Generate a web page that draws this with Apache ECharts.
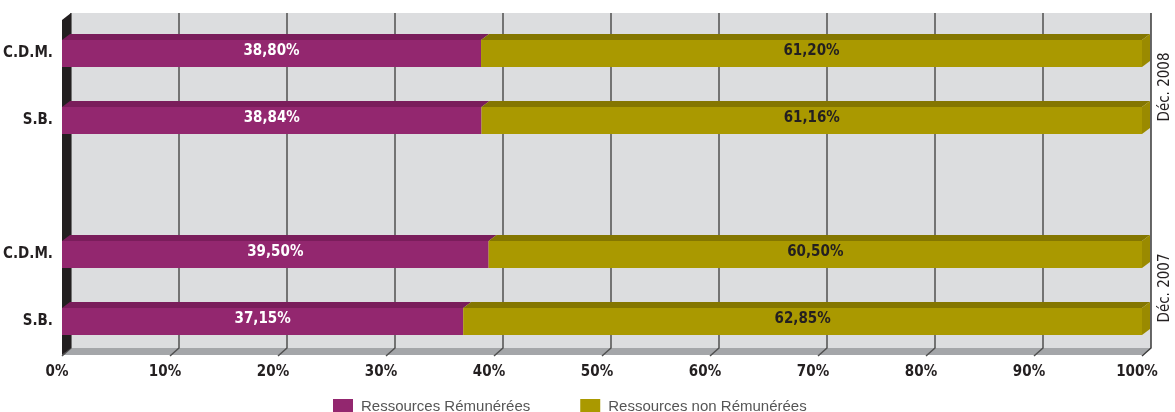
<!DOCTYPE html>
<html><head><meta charset="utf-8">
<script src="https://cdn.jsdelivr.net/npm/echarts@6/dist/echarts.min.js"></script>
<style>html,body{margin:0;padding:0;background:#fff}#c{width:1175px;height:412px}</style>
</head><body><div id="c"></div>
<script>
// ---- data ----
const categories = ['S.B.', 'C.D.M.', '', 'S.B.', 'C.D.M.'];
const periods = ['Déc. 2007', 'Déc. 2008'];
const periodRows = [[0, 1], [3, 4]];
const remunerees = [37.15, 39.50, null, 38.84, 38.80];
const nonRemunerees = [62.85, 60.50, null, 61.16, 61.20];
const xTicks = [0, 10, 20, 30, 40, 50, 60, 70, 80, 90, 100];
const seriesNames = ['Ressources Rémunérées', 'Ressources non Rémunérées'];

// ---- styling ----
const NARROW = "'Liberation Sans Narrow','DejaVu Sans Condensed','Roboto Condensed',sans-serif";
const BAR_H = 27, BDX = 8, BDY = -6, WDX = 9, WDY = -7;
const MAG = {front: '#93276F', top: '#7A1D5B', side: '#6E1A52'};
const OLV = {front: '#AA9900', top: '#847600', side: '#9A8A00'};

function fmt(v) { return v.toFixed(2).replace('.', ',') + '%'; }

const remData = [], nonData = [];
categories.forEach((c, i) => {
  if (remunerees[i] == null) return;
  remData.push([0, remunerees[i], i, remunerees[i]]);
  nonData.push([remunerees[i], remunerees[i] + nonRemunerees[i], i, nonRemunerees[i]]);
});

function segRender(col, isLast, textColor) {
  return function (params, api) {
    const s = api.value(0), e = api.value(1), ci = api.value(2), v = api.value(3);
    const p0 = api.coord([s, ci]), p1 = api.coord([e, ci]);
    const x0 = p0[0], x1 = p1[0], yT = p0[1] - BAR_H / 2, yB = p0[1] + BAR_H / 2;
    const ch = [
      {type: 'polygon', shape: {points: [[x0, yT], [x1, yT], [x1 + BDX, yT + BDY], [x0 + BDX, yT + BDY]]}, style: {fill: col.top}},
      {type: 'rect', shape: {x: x0, y: yT, width: x1 - x0, height: BAR_H}, style: {fill: col.front}}
    ];
    if (isLast) ch.push({type: 'polygon', shape: {points: [[x1, yT], [x1 + BDX, yT + BDY], [x1 + BDX, yB + BDY], [x1, yB]]}, style: {fill: col.side}});
    ch.push({type: 'text', style: {text: fmt(v), x: (x0 + x1) / 2, y: (yT + yB) / 2 - 2, align: 'center', verticalAlign: 'middle', fill: textColor, font: 'bold 15px ' + NARROW}});
    return {type: 'group', children: ch};
  };
}

function bgRender(params, api) {
  const cs = params.coordSys;
  const L = cs.x, R = cs.x + cs.width, T = cs.y, B = cs.y + cs.height;
  const ch = [];
  // back wall
  ch.push({type: 'rect', shape: {x: L + WDX, y: T + WDY, width: cs.width, height: cs.height}, style: {fill: '#DCDDDF'}});
  // floor
  ch.push({type: 'polygon', shape: {points: [[L, B], [R, B], [R + WDX, B + WDY], [L + WDX, B + WDY]]}, style: {fill: '#A4A6A9'}});
  // gridlines
  xTicks.forEach(t => {
    const x = api.coord([t, 0])[0];
    ch.push({type: 'polyline', shape: {points: [[x + WDX, T + WDY], [x + WDX, B + WDY], [x, B + 1]]}, style: {stroke: t === 100 ? '#3a3a3a' : '#505050', lineWidth: 1.5, fill: null}});
  });
  // left wall
  ch.push({type: 'polygon', shape: {points: [[L, T], [L + WDX, T + WDY], [L + WDX, B + WDY], [L, B]]}, style: {fill: '#231F20'}});
  // period labels
  periods.forEach((p, k) => {
    const ya = api.coord([0, periodRows[k][0]])[1], yb = api.coord([0, periodRows[k][1]])[1];
    ch.push({type: 'text', x: R + 23, y: (ya + yb) / 2, rotation: Math.PI / 2,
      style: {text: p, align: 'center', verticalAlign: 'middle', fill: '#231F20', font: '15px ' + NARROW}});
  });
  return {type: 'group', children: ch};
}

const chart = echarts.init(document.getElementById('c'));
chart.setOption({
  animation: false,
  grid: {left: 62, right: 33, top: 20, bottom: 57},
  xAxis: {type: 'value', min: 0, max: 100, interval: 10,
    axisLine: {show: false}, axisTick: {show: false}, splitLine: {show: false},
    axisLabel: {formatter: '{value}%', margin: 10, color: '#231F20', fontWeight: 'bold', fontSize: 15, fontFamily: NARROW, padding: [0, 10, 0, 0]}},
  yAxis: {type: 'category', data: categories,
    axisLine: {show: false}, axisTick: {show: false}, splitLine: {show: false},
    axisLabel: {margin: 9, color: '#231F20', fontWeight: 'bold', fontSize: 15, fontFamily: NARROW}},
  legend: {data: seriesNames, left: 328, top: 394, icon: 'rect', itemWidth: 20, itemHeight: 16, itemGap: 50,
    textStyle: {fontSize: 15, color: '#555', fontFamily: "'Liberation Sans',Arial,sans-serif", padding: [0, 0, 0, 3]}},
  series: [
    {type: 'custom', name: 'bg', z: 1, silent: true, data: [[0, 0]], renderItem: bgRender, encode: {x: 0, y: 1}},
    {type: 'custom', name: seriesNames[0], z: 2, itemStyle: {color: MAG.front}, data: remData, encode: {x: [0, 1], y: 2}, renderItem: segRender(MAG, false, '#fff')},
    {type: 'custom', name: seriesNames[1], z: 3, itemStyle: {color: OLV.front}, data: nonData, encode: {x: [0, 1], y: 2}, renderItem: segRender(OLV, true, '#231F20')}
  ]
});
</script>
</body></html>
